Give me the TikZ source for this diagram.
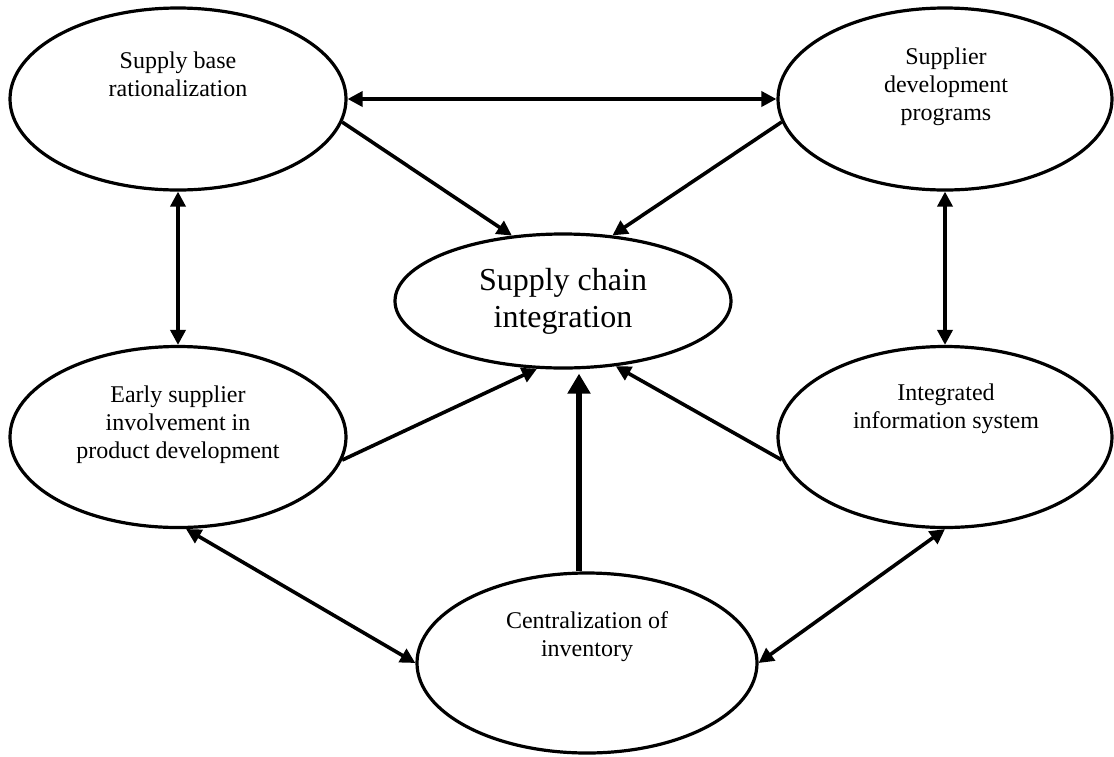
\documentclass[tikz,border=0pt]{standalone}
\usepackage{fontspec}
\setmainfont{Liberation Serif}
\usetikzlibrary{arrows.meta, shapes.geometric, calc}

\tikzset{
  oval/.style={ellipse, draw, line width=1.6pt, inner sep=0pt},
  txt/.style={align=center, font=\fontsize{12}{14}\selectfont},
  link/.style={line width=1.8pt, -{Triangle[length=7.5pt,width=7.5pt]}},
  twoway/.style={line width=1.8pt, {Triangle[length=7.5pt,width=7.5pt]}-{Triangle[length=7.5pt,width=7.5pt]}},
  heavy/.style={line width=3pt, -{Triangle[length=10pt,width=11pt]}, shorten >=2pt}
}

\begin{document}
\begin{tikzpicture}[x=0.5pt, y=-0.5pt]
        \useasboundingbox (0,0) rectangle (1114,756);

        \node[oval, minimum width=168pt, minimum height=91pt] (sbr) at (178,99) {};
        \node[txt] (sbrtext) at (178,74) {Supply base\\rationalization};

        \node[oval, minimum width=167pt, minimum height=91pt] (sdp) at (945,99) {};
        \node[txt] (sdptext) at (946,87) {Supplier\\development\\programs};

        \node[oval, minimum width=168pt, minimum height=67pt, align=center, font=\fontsize{16}{18.5}\selectfont] (sci) at (563,301) {Supply chain\\integration};

        \node[oval, minimum width=168pt, minimum height=90.5pt] (eim) at (178,437) {};
        \node[txt] (eimtext) at (178,425) {Early supplier\\involvement in\\product development};

        \node[oval, minimum width=167pt, minimum height=90.5pt] (iis) at (945,437) {};
        \node[txt] (iistext) at (946,409) {Integrated\\information system};

        \node[oval, minimum width=170pt, minimum height=90pt] (coi) at (587,663) {};
        \node[txt] (coitext) at (587,637) {Centralization of\\inventory};

        \draw[twoway] (sbr.east) -- (sdp.west);
        \draw[link] (sbr.-8) -- (sci.128);
        \draw[link] (sdp.188) -- (sci.53);
        \draw[twoway] (sbr.south) -- (eim.north);
        \draw[twoway] (sdp.south) -- (iis.north);
        \draw[link] (eim.-8) -- (sci.249);
        \draw[link] (iis.188) -- (sci.-51);
        \draw[heavy] ([xshift=-4pt]coi.north) -- ([xshift=-4pt]coi.north |- sci.south);
        \draw[twoway] (eim.-85) -- (coi.west);
        \draw[twoway] (coi.east) -- (iis.south);
\end{tikzpicture}
\end{document}
